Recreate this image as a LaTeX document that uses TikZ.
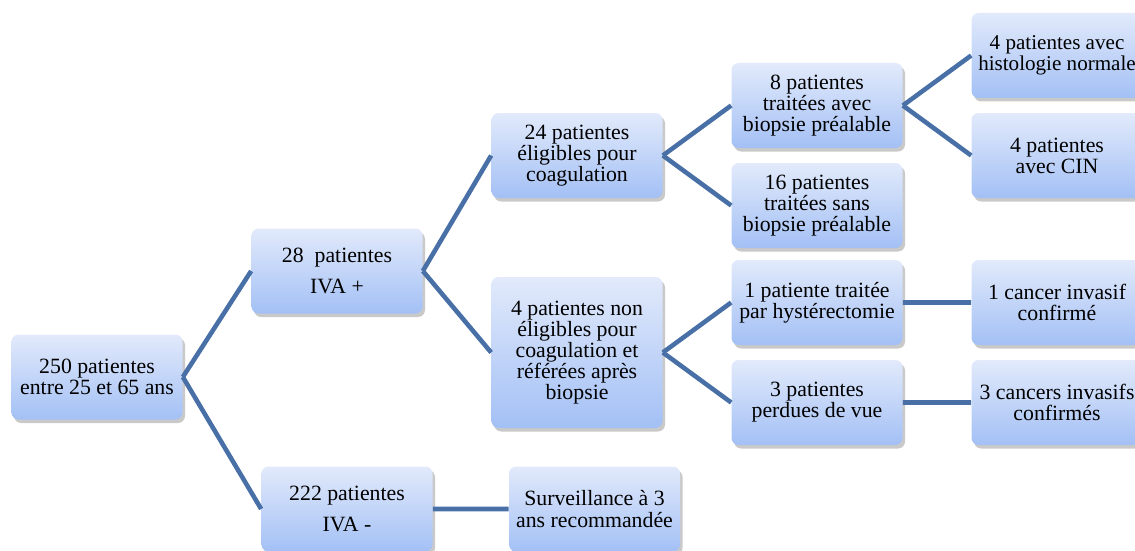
\documentclass[tikz,border=0pt]{standalone}
\usepackage{fontspec}
\setmainfont{Liberation Serif}
\usetikzlibrary{shadows}
\definecolor{boxtop}{RGB}{226,234,251}
\definecolor{boxbottom}{RGB}{163,192,245}
\definecolor{linkblue}{RGB}{72,112,166}

\begin{document}
\begin{tikzpicture}
                        \tikzstyle{box}=[rounded corners=4pt, top color=boxtop, bottom color=boxbottom,
                            drop shadow={shadow xshift=0.5mm, shadow yshift=-0.7mm, opacity=0.3, fill=black!70},
                            minimum width=34.2mm, minimum height=17mm, inner sep=2pt, align=center,
                            font=\fontsize{12.4}{12}\selectfont]
                        \tikzstyle{every node}=[box]
                        \tikzstyle{edge from parent}=[draw=linkblue, line width=2.6pt]
                        \tikzstyle{level 1}=[sibling distance=47.6mm]
                        \tikzstyle{level 2}=[sibling distance=39.4mm]
                        \tikzstyle{level 3}=[sibling distance=20mm]
                        \tikzstyle{level 4}=[sibling distance=20mm, xshift=-0.5mm]
                        \path[use as bounding box, clip] (0,0) rectangle (22.7,-11);
                        \node (total) at (1.94,-7.54) {250 patientes\\entre 25 et 65 ans}
                            [grow'=right, level distance=48mm,
                             edge from parent path={(\tikzparentnode.east) -- (\tikzchildnode.west)}]
                            child[yshift=-2.6mm] {node (ivaplus) {28\ \ patientes\\[6pt]IVA +}
                                child[yshift=3.4mm] {node (eligible) {24 patientes\\éligibles pour\\coagulation}
                                    child {node (avecbiopsie) {8 patientes\\traitées avec\\biopsie préalable}
                                        child {node[font=\fontsize{12}{12}\selectfont] (normale) {4 patientes avec\\histologie normale}
                                        }
                                        child {node (cin) {4 patientes\\avec CIN}
                                        }
                                    }
                                    child {node (sansbiopsie) {16 patientes\\traitées sans\\biopsie préalable}
                                    }
                                }
                                child[yshift=3.4mm] {node[minimum height=30.2mm] (noneligible) {4 patientes non\\éligibles pour\\coagulation et\\référées après\\biopsie}
                                    child {node (hysterectomie) {1 patiente traitée\\par hystérectomie}
                                        child {node (cancerun) {1 cancer invasif\\confirmé}
                                        }
                                    }
                                    child {node (perdues) {3 patientes\\perdues de vue}
                                        child {node (cancertrois) {3 cancers invasifs\\confirmés}
                                        }
                                    }
                                }
                            }
                            child[yshift=-2.6mm, xshift=2mm] {node (ivamoins) {222 patientes\\[6pt]IVA -}
                                child[xshift=1.5mm] {node (surveillance) {Surveillance à 3\\ans recommandée}
                                }
                            };
                    \end{tikzpicture}
\end{document}
